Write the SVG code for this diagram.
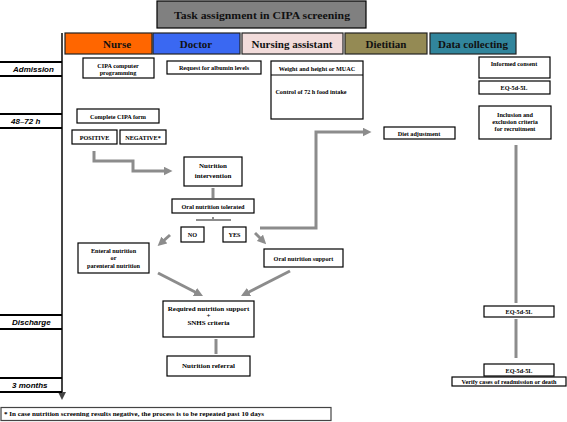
<svg xmlns="http://www.w3.org/2000/svg" width="567" height="422" viewBox="0 0 567 422">
<style>
.box{fill:#fff;stroke:#000;stroke-width:1.2}
.hdr{stroke:#222;stroke-width:1.2}
.ht{font-family:"Liberation Serif",serif;font-weight:bold;font-size:11px;text-anchor:middle;dominant-baseline:central;fill:#111}
.t{font-family:"Liberation Serif",serif;font-weight:bold;font-size:6.2px;text-anchor:middle;dominant-baseline:central;fill:#000}
.tm{font-family:"Liberation Serif",serif;font-weight:bold;font-size:7px;text-anchor:middle;dominant-baseline:central;fill:#000}
.lane{font-family:"Liberation Sans",sans-serif;font-weight:bold;font-style:italic;font-size:8px;dominant-baseline:central;fill:#000}
.ll{stroke:#000;stroke-width:2}
.c{fill:none;stroke:#8c8c8c;stroke-width:3}
.fn{font-family:"Liberation Serif",serif;font-weight:bold;font-size:5.5px;text-anchor:start;dominant-baseline:central;fill:#000}
</style>
<defs>
<marker id="ah" markerUnits="userSpaceOnUse" markerWidth="9" markerHeight="9" viewBox="0 0 10 10" refX="5" refY="5" orient="auto">
<path d="M0,0 L10,5 L0,10 z" fill="#8c8c8c"/>
</marker>
<marker id="tah" markerUnits="userSpaceOnUse" markerWidth="8" markerHeight="8" viewBox="0 0 10 10" refX="5" refY="5" orient="auto">
<path d="M0,0 L10,5 L0,10 z" fill="#444"/>
</marker>
</defs>

<g id="title">
<rect x="157" y="1" width="209" height="27" fill="#808080" stroke="#000" stroke-width="1.2"/>
<text x="262" y="15" class="ht" font-size="12" textLength="176" lengthAdjust="spacingAndGlyphs">Task assignment in CIPA  screening</text>
</g>

<g id="headers">
<g id="h-nurse"><rect class="hdr" x="65" y="33" width="87" height="21" fill="#ff6600"/><text class="ht" x="117" y="44">Nurse</text></g>
<g id="h-doctor"><rect class="hdr" x="153" y="33" width="87" height="21" fill="#3a68f2"/><text class="ht" x="196" y="44">Doctor</text></g>
<g id="h-assistant"><rect class="hdr" x="242" y="33" width="101" height="21" fill="#f2dcdb"/><text class="ht" x="292" y="44">Nursing assistant</text></g>
<g id="h-dietitian"><rect class="hdr" x="345" y="33" width="82" height="21" fill="#948a54"/><text class="ht" x="386" y="44">Dietitian</text></g>
<g id="h-data"><rect class="hdr" x="430" y="33" width="86" height="21" fill="#31859c"/><text class="ht" x="473" y="44">Data collecting</text></g>
</g>

<g id="timeline">
<line x1="62" y1="33" x2="62" y2="396" stroke="#444" stroke-width="2" marker-end="url(#tah)"/>
<line class="ll" x1="0" y1="62" x2="62" y2="62"/><line class="ll" x1="0" y1="76" x2="62" y2="76"/>
<text class="lane" x="13" y="69">Admission</text>
<line class="ll" x1="0" y1="114" x2="62" y2="114"/><line class="ll" x1="0" y1="128" x2="62" y2="128"/>
<text class="lane" x="11" y="121">48–72 h</text>
<line class="ll" x1="0" y1="315" x2="62" y2="315"/><line class="ll" x1="0" y1="329" x2="62" y2="329"/>
<text class="lane" x="12" y="322">Discharge</text>
<line class="ll" x1="0" y1="378" x2="62" y2="378"/><line class="ll" x1="0" y1="392" x2="62" y2="392"/>
<text class="lane" x="12" y="385">3 months</text>
</g>

<g id="connectors">
<polyline class="c" points="94,151 94,161 133,161 133,171 168,171" marker-end="url(#ah)"/>
<line class="c" x1="213" y1="188" x2="213" y2="198"/>
<polyline fill="none" stroke="#8c8c8c" stroke-width="2" points="196,220 213,220 213,217 213,220 231,220"/>
<line class="c" x1="170" y1="235" x2="161" y2="243" marker-end="url(#ah)"/>
<line class="c" x1="255" y1="233" x2="263" y2="241" marker-end="url(#ah)"/>
<polyline class="c" points="260,228 316,228 316,132 367,132" marker-end="url(#ah)"/>
<line class="c" x1="158" y1="273" x2="199" y2="294" marker-end="url(#ah)"/>
<line class="c" x1="290" y1="271" x2="245" y2="294" marker-end="url(#ah)"/>
<line class="c" x1="216" y1="339" x2="216" y2="354"/>
<line class="c" x1="516" y1="145" x2="516" y2="303"/>
<line class="c" x1="516" y1="319" x2="516" y2="358"/>
</g>

<g id="n-cipa-prog"><rect class="box" x="83" y="58" width="71" height="20"/><text class="t" x="118" y="65">CIPA computer</text><text class="t" x="118" y="72.5">programming</text></g>
<g id="n-albumin"><rect class="box" x="167" y="61" width="94" height="13"/><text class="t" x="214" y="67.5">Request for albumin levels</text></g>
<g id="n-weight"><rect class="box" x="271" y="61" width="92" height="58"/><line x1="271" y1="75" x2="363" y2="75" stroke="#000" stroke-width="1.2"/><text class="t" x="317" y="68">Weight and height or MUAC</text><text class="t" x="311" y="91">Control of 72 h food intake</text></g>
<g id="n-consent"><rect class="box" x="479" y="57" width="71" height="21"/><text class="t" x="514" y="63.5">Informed consent</text></g>
<g id="n-eq1"><rect class="box" x="479" y="81" width="71" height="13"/><text class="t" x="514" y="87.5">EQ-5d-5L</text></g>
<g id="n-inclusion"><rect class="box" x="479" y="106" width="72" height="33"/><text class="t" x="515" y="114">Inclusion and</text><text class="t" x="515" y="121">exclusion criteria</text><text class="t" x="515" y="128">for recruitment</text></g>
<g id="n-diet"><rect class="box" x="384" y="127" width="71" height="12"/><text class="t" x="419" y="133">Diet adjustment</text></g>
<g id="n-cipa-form"><rect class="box" x="77" y="109" width="82" height="14"/><text class="t" x="118" y="116">Complete CIPA form</text></g>
<g id="n-positive"><rect class="box" x="72" y="130" width="45" height="14"/><text class="t" x="94.5" y="137">POSITIVE</text></g>
<g id="n-negative"><rect class="box" x="120" y="130" width="46" height="14"/><text class="t" x="143" y="137">NEGATIVE*</text></g>
<g id="n-intervention"><rect class="box" x="184" y="157" width="58" height="29"/><text class="tm" x="213" y="166" font-size="8">Nutrition</text><text class="tm" x="213" y="175.5" font-size="8">intervention</text></g>
<g id="n-tolerated"><rect class="box" x="172" y="199" width="82" height="14"/><text class="t" x="213" y="206">Oral nutrition tolerated</text></g>
<g id="n-no"><rect class="box" x="181" y="227" width="23" height="15"/><text class="t" x="192.5" y="234.5">NO</text></g>
<g id="n-yes"><rect class="box" x="223" y="227" width="23" height="15"/><text class="t" x="234.5" y="234.5">YES</text></g>
<g id="n-enteral"><rect class="box" x="78" y="243" width="71" height="30"/><text class="t" x="113.5" y="250">Enteral nutrition</text><text class="t" x="113.5" y="257">or</text><text class="t" x="113.5" y="265">parenteral nutrition</text></g>
<g id="n-oral-support"><rect class="box" x="264" y="249" width="79" height="18"/><text class="t" x="303.5" y="258">Oral nutrition support</text></g>
<g id="n-required"><rect class="box" x="163" y="301" width="91" height="36"/><text class="tm" x="208.5" y="308.5">Required nutrition support</text><text class="tm" x="208.5" y="315.5">+</text><text class="tm" x="208.5" y="323">SNHS criteria</text></g>
<g id="n-referral"><rect class="box" x="167" y="356" width="83" height="20"/><text class="tm" x="208.5" y="366">Nutrition referral</text></g>
<g id="n-eq2"><rect class="box" x="484" y="306" width="70" height="11"/><text class="t" x="519" y="311.5">EQ-5d-5L</text></g>
<g id="n-eq3"><rect class="box" x="484" y="364" width="70" height="12"/><text class="t" x="519" y="370">EQ-5d-5L</text></g>
<g id="n-verify"><rect class="box" x="452" y="377" width="114" height="9"/><text class="t" x="509" y="381.5">Verify cases  of readmission or death</text></g>

<g id="footnote"><rect x="1" y="407.5" width="330" height="13" fill="#fff" stroke="#444" stroke-width="1.2"/><text class="fn" x="4" y="414" textLength="260" lengthAdjust="spacingAndGlyphs">* In case nutrition screening results negative, the process is to be repeated past 10 days</text></g>
</svg>
